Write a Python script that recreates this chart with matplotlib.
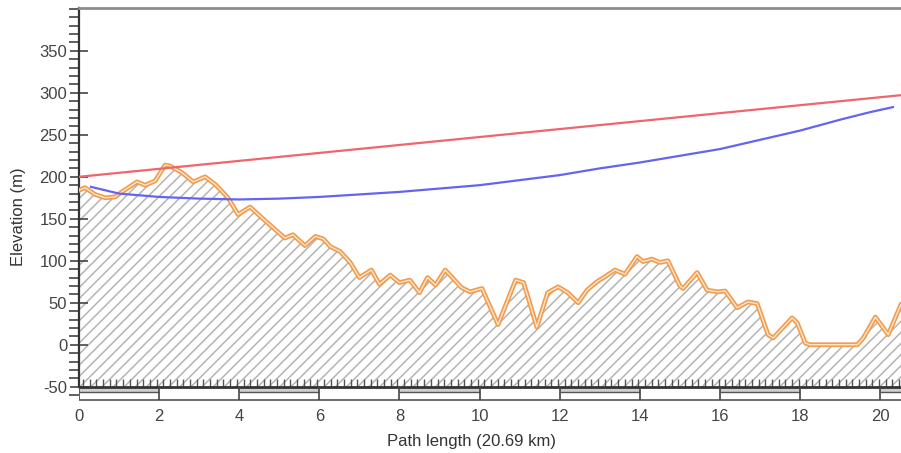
import numpy as np
import matplotlib
matplotlib.use("Agg")
from matplotlib import pyplot as plt
from matplotlib.ticker import MultipleLocator

plt.rcParams['font.family'] = ['Liberation Sans', 'DejaVu Sans']
plt.rcParams['axes.unicode_minus'] = False
plt.rcParams['hatch.linewidth'] = 1.1
plt.rcParams['hatch.color'] = '#b4b4b4'

# terrain profile (km, m)
dist = [0.0, 0.15, 0.4, 0.65, 0.9, 1.07, 1.45, 1.65, 1.9, 2.15, 2.27, 2.57, 2.85,
        3.15, 3.4, 3.72, 3.97, 4.27, 4.57, 4.9, 5.14, 5.34, 5.64, 5.9, 6.1, 6.27,
        6.52, 6.77, 7.0, 7.3, 7.5, 7.77, 8.0, 8.26, 8.5, 8.7, 8.9, 9.14, 9.3, 9.55,
        9.76, 10.06, 10.46, 10.9, 11.1, 11.43, 11.7, 11.96, 12.2, 12.46, 12.68,
        12.93, 13.13, 13.38, 13.63, 13.93, 14.08, 14.3, 14.5, 14.7, 15.0, 15.08,
        15.43, 15.68, 15.95, 16.13, 16.43, 16.7, 16.93, 17.2, 17.33, 17.8, 17.93,
        18.13, 18.25, 19.43, 19.58, 19.88, 20.2, 20.52, 20.69]
elev = [184, 187, 179, 175, 176, 182, 194, 190, 195, 214, 213, 205, 194,
        200, 191, 175, 155, 164, 151, 137, 127, 131, 118, 129, 126, 117,
        111, 98, 80, 89, 72, 83, 74, 77, 62, 80, 71, 89, 81, 68,
        63, 67, 24, 77, 74, 21, 62, 69, 62, 50, 65,
        75, 81, 89, 84, 105, 99, 102, 98, 100, 70, 67,
        86, 65, 63, 64, 44, 51, 49, 12, 8, 32, 26,
        2, 0, 0, 8, 33, 12, 48, 55]

# line of sight
los_x = [0.0, 20.69]
los_y = [200, 298]

# curved line below line of sight
curve_x = [0.3, 1.0, 2.0, 3.0, 4.0, 5.0, 6.0, 7.0, 8.0, 9.0, 10.0, 11.0, 12.0,
           13.0, 14.0, 15.0, 16.0, 17.0, 18.0, 19.0, 19.75, 20.32]
curve_y = [188, 180, 176, 174, 173, 174, 176, 179, 182, 186, 190, 196, 202,
           210, 217, 225, 233, 244, 255, 268, 277, 283]

x_ticks = list(range(0, 21, 2))
y_ticks = list(range(-50, 351, 50))

fig = plt.figure(figsize=(9.01, 4.53), dpi=100)
ax = fig.add_axes([79 / 901, 1 - 401 / 453, 1 - 79 / 901, 393 / 453])

ax.set_xlim(0, 20.52)
ax.set_ylim(-67, 401)

# hatched ground
ax.fill_between(dist, -50, elev, facecolor='white', hatch='///', linewidth=0, zorder=1)
# little grass marks along the base
ax.vlines(np.arange(0.1, 20.6, 0.167), -50, -41, color='#555555', lw=1.0, zorder=2)

# terrain outline, double orange line
ax.plot(dist, elev, color='#f29c4c', lw=3.4, zorder=3, solid_joinstyle='round')
ax.plot(dist, elev, color='#fde6cf', lw=1.0, zorder=4, solid_joinstyle='round')

ax.plot(los_x, los_y, color='#f0646e', lw=1.6, zorder=5)
ax.plot(curve_x, curve_y, color='#6464f0', lw=1.6, zorder=5)

# distance scale strip below the profile
ax.axhline(-50, color='#333333', lw=2, zorder=6)
ax.axhline(-66.3, color='#555555', lw=1.2, zorder=6)
for i, x0 in enumerate(x_ticks):
    ax.vlines(x0, -66.3, -50, color='#444444', lw=1.2, zorder=6)
    if i % 2 == 0:
        ax.fill_between([x0, x0 + 2], -56, -50.5, color='#d0d0d0', lw=0, zorder=5)
        ax.hlines(-56, x0, x0 + 2, color='#555555', lw=1.0, zorder=6)

ax.spines['right'].set_visible(False)
ax.spines['bottom'].set_visible(False)
ax.spines['top'].set_color('#8c8c8c')
ax.spines['top'].set_linewidth(2)
ax.spines['left'].set_bounds(-50, 401)
ax.spines['left'].set_linewidth(1.6)
ax.spines['left'].set_color('#333333')

ax.set_yticks(y_ticks)
ax.yaxis.set_minor_locator(MultipleLocator(10))
ax.tick_params(axis='y', which='major', direction='inout', length=13, width=1.2,
               colors='#444444', labelsize=12, pad=2)
ax.tick_params(axis='y', which='minor', direction='out', length=7, width=1.2,
               colors='#444444')
ax.set_xticks(x_ticks)
ax.tick_params(axis='x', length=0, labelsize=12, pad=6, colors='#444444')

ax.set_xlabel('Path length (20.69 km)', fontsize=12, color='#333333')
ax.xaxis.set_label_coords(0.477, -0.085)
ax.set_ylabel('Elevation (m)', fontsize=12, color='#333333')
ax.yaxis.set_label_coords(-0.065, 0.47)

fig.savefig('out.png', dpi=100)
